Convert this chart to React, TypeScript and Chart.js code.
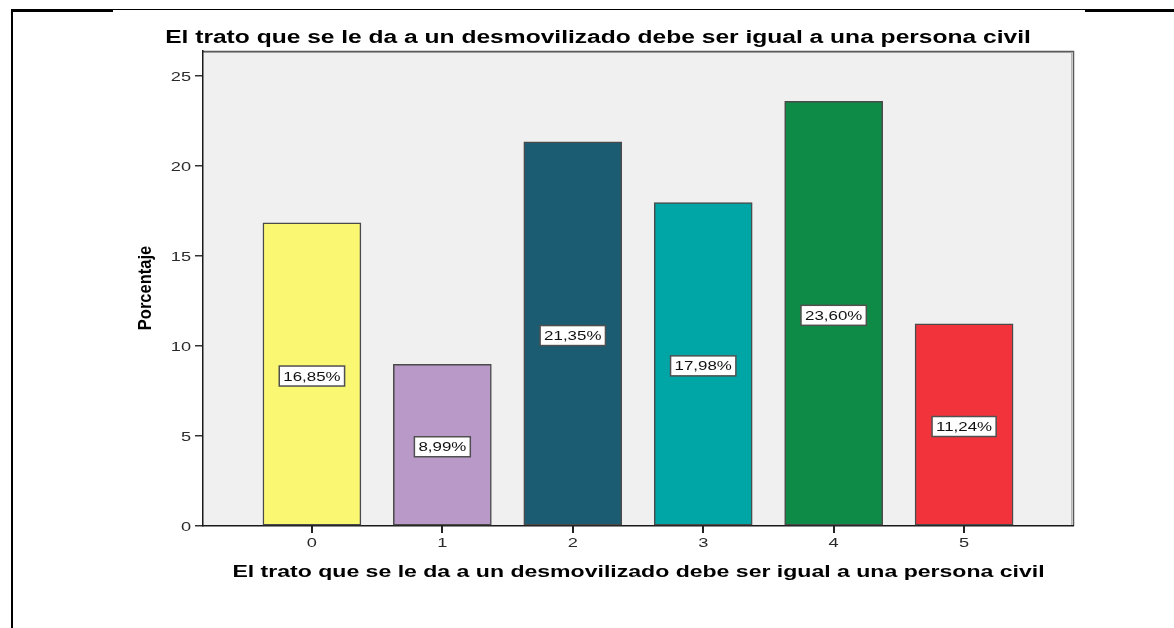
import React, { useEffect, useRef } from "react";
import { Chart, registerables } from "chart.js";

Chart.register(...registerables);

const chartTitle = "El trato que se le da a un desmovilizado debe ser igual a una persona civil";
const xAxisTitle = "El trato que se le da a un desmovilizado debe ser igual a una persona civil";
const yAxisTitle = "Porcentaje";
const categories = [0, 1, 2, 3, 4, 5];
const percentages = [16.85, 8.99, 21.35, 17.98, 23.6, 11.24];
const barColors = ["#FAF773", "#B899C8", "#1B5C72", "#00A5A6", "#0E8B46", "#F2333B"];
const yTicks = [0, 5, 10, 15, 20, 25];

const fmt = (v: number) => v.toFixed(2).replace(".", ",") + "%";
const FONT = "'Liberation Sans', Arial, sans-serif";

function stretchedText(ctx: any, txt: string, x: number, y: number, sx: number, align: string) {
  ctx.save();
  ctx.translate(x, y);
  ctx.scale(sx, 1);
  ctx.textAlign = align;
  ctx.fillText(txt, 0, 0);
  ctx.restore();
}

export default function App() {
  const ref = useRef<HTMLCanvasElement | null>(null);

  useEffect(() => {
    const canvas = ref.current;
    if (!canvas) return;

    const bgPlugin = {
      id: "plotBg",
      beforeDraw(chart: any) {
        const { ctx, chartArea: a } = chart;
        ctx.save();
        ctx.fillStyle = "#F0F0F0";
        ctx.fillRect(a.left, a.top, a.right - a.left, a.bottom - a.top);
        ctx.strokeStyle = "#B5B5B5";
        ctx.lineWidth = 1;
        ctx.beginPath();
        ctx.moveTo(a.left, a.top + 1.5);
        ctx.lineTo(a.right - 1.5, a.top + 1.5);
        ctx.lineTo(a.right - 1.5, a.bottom);
        ctx.stroke();
        ctx.strokeStyle = "#5A5A5A";
        ctx.lineWidth = 1.5;
        ctx.beginPath();
        ctx.moveTo(a.left, a.top + 0.5);
        ctx.lineTo(a.right + 0.5, a.top + 0.5);
        ctx.lineTo(a.right + 0.5, a.bottom);
        ctx.stroke();
        ctx.restore();
      },
    };

    const textPlugin = {
      id: "texts",
      afterDraw(chart: any) {
        const { ctx, chartArea: a } = chart;
        const xs = chart.scales.x;
        const ys = chart.scales.y;
        ctx.save();
        // x tick marks
        ctx.fillStyle = "#222";
        categories.forEach((c) => {
          const px = Math.round(xs.getPixelForValue(c));
          ctx.fillRect(px - 1, a.bottom, 2, 7);
        });

        ctx.fillStyle = "#000";
        ctx.textBaseline = "alphabetic";
        ctx.font = "bold 17.5px " + FONT;
        stretchedText(ctx, chartTitle, 598, 43, 1.404, "center");
        ctx.font = "bold 17px " + FONT;
        stretchedText(ctx, xAxisTitle, 638.5, 577, 1.356, "center");

        // tick labels
        ctx.fillStyle = "#2A2A2A";
        ctx.font = "13px " + FONT;
        ctx.textBaseline = "middle";
        yTicks.forEach((v) => {
          stretchedText(ctx, String(v), 191, ys.getPixelForValue(v) + 1, 1.4, "right");
        });
        categories.forEach((c) => {
          stretchedText(ctx, String(c), xs.getPixelForValue(c), 543, 1.4, "center");
        });

        ctx.fillStyle = "#000";
        ctx.textBaseline = "alphabetic";
        ctx.translate(151, 288);
        ctx.rotate(-Math.PI / 2);
        ctx.scale(1, 1.12);
        ctx.font = "bold 16.5px " + FONT;
        ctx.textAlign = "center";
        ctx.fillText(yAxisTitle, 0, 0);
        ctx.restore();
      },
    };

    const labelPlugin = {
      id: "barLabels",
      afterDatasetsDraw(chart: any) {
        const { ctx } = chart;
        const meta = chart.getDatasetMeta(0);
        ctx.save();
        ctx.font = "13px " + FONT;
        ctx.textBaseline = "middle";
        const sx = 1.3;
        meta.data.forEach((el: any, i: number) => {
          const txt = fmt(percentages[i]);
          const cx = el.x;
          const cy = (el.y + el.base) / 2 + 2;
          const w = ctx.measureText(txt).width * sx + 8;
          const h = 20;
          ctx.fillStyle = "#FFFFFF";
          ctx.fillRect(cx - w / 2, cy - h / 2, w, h);
          ctx.strokeStyle = "#505050";
          ctx.lineWidth = 1.5;
          ctx.strokeRect(cx - w / 2, cy - h / 2, w, h);
          ctx.fillStyle = "#111";
          stretchedText(ctx, txt, cx, cy + 1, sx, "center");
        });
        ctx.restore();
      },
    };

    const chart = new Chart(canvas, {
      type: "bar",
      data: {
        datasets: [
          {
            data: categories.map((c, i) => ({ x: c, y: percentages[i] })),
            backgroundColor: barColors,
            borderColor: "#4A4A4A",
            borderWidth: 1.5,
            borderSkipped: false,
            barThickness: 98,
          },
        ],
      },
      options: {
        animation: false,
        responsive: false,
        maintainAspectRatio: false,
        layout: { padding: { left: 0, top: 51, right: 101, bottom: 0 } },
        plugins: {
          legend: { display: false },
          tooltip: { enabled: false },
          title: { display: false },
        },
        scales: {
          x: {
            type: "linear",
            offset: false,
            min: -0.835,
            max: 5.835,
            afterBuildTicks(scale: any) {
              scale.ticks = categories.map((v) => ({ value: v }));
            },
            afterFit(scale: any) {
              scale.height = 102;
            },
            grid: { display: false },
            border: { display: true, color: "#1A1A1A", width: 1.5 },
            ticks: { display: false },
          },
          y: {
            min: 0,
            max: 26.4,
            afterBuildTicks(scale: any) {
              scale.ticks = yTicks.map((v) => ({ value: v }));
            },
            afterFit(scale: any) {
              scale.width = 203;
            },
            grid: { display: true, drawOnChartArea: false, drawTicks: true, tickLength: 8, color: "#333", lineWidth: 1.5 },
            border: { display: true, color: "#1A1A1A", width: 1.5 },
            ticks: { display: false },
          },
        },
      },
      plugins: [bgPlugin, labelPlugin, textPlugin],
    } as any);

    return () => chart.destroy();
  }, []);

  return (
    <div style={{ position: "absolute", left: 0, top: 0, width: 1174, height: 628, background: "#fff", overflow: "hidden" }}>
      <canvas ref={ref} width={1174} height={628} style={{ position: "absolute", left: 0, top: 0, width: 1174, height: 628 }} />
      <div style={{ position: "absolute", left: 11, top: 9, width: 102, height: 2.5, background: "#000" }} />
      <div style={{ position: "absolute", left: 113, top: 9, width: 972, height: 1, background: "#000" }} />
      <div style={{ position: "absolute", left: 1085, top: 9, width: 89, height: 2.5, background: "#000" }} />
      <div style={{ position: "absolute", left: 11, top: 9, width: 2, height: 619, background: "#000" }} />
    </div>
  );
}
